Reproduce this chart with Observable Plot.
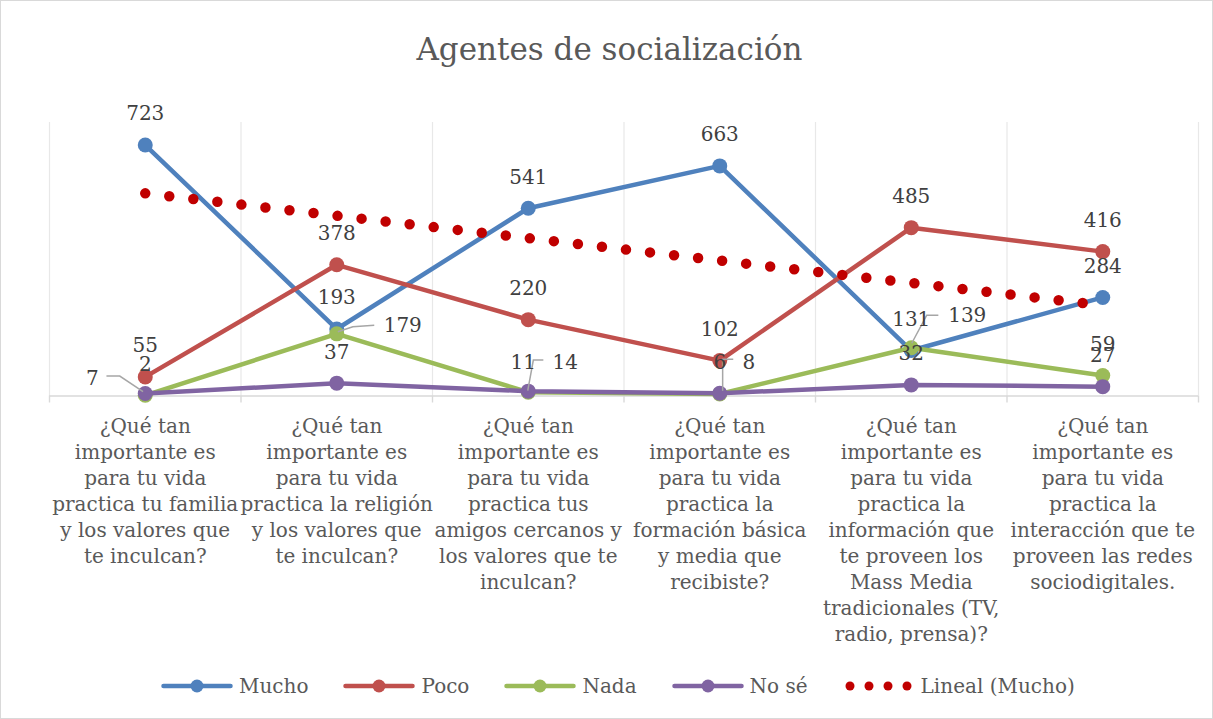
<!DOCTYPE html>
<html>
<head>
<meta charset="utf-8">
<script src="https://cdn.jsdelivr.net/npm/d3@7"></script>
<script src="https://cdn.jsdelivr.net/npm/@observablehq/plot@0.6"></script>
<style>
  html, body { margin: 0; padding: 0; background: #fff; }
  #chart { position: relative; width: 1213px; height: 719px; outline: 1px solid #d9d9d9; outline-offset: -1px; font-family: "DejaVu Serif", serif; overflow: hidden; }
  #title { position: absolute; left: 0; top: 34px; width: 1213px; text-align: center; font-size: 31px; line-height: 31px; color: #595959; padding-left: 6px; box-sizing: border-box; }
  #plot { position: absolute; left: 0; top: 100px; }
  #legend { position: absolute; left: 161px; top: 673px; height: 26px; display: flex; align-items: center; font-size: 20px; color: #595959; }
  .item { display: flex; align-items: center; margin-right: 35px; }
  .item svg { margin-right: 6px; }
</style>
</head>
<body>
<div id="chart">
  <div id="title">Agentes de socialización</div>
  <div id="plot"></div>
  <div id="legend"></div>
</div>
<script>
// ---- Data ----
const tickLabels = [
  "¿Qué tan\nimportante es\npara tu vida\npractica tu familia\ny los valores que\nte inculcan?",
  "¿Qué tan\nimportante es\npara tu vida\npractica la religión\ny los valores que\nte inculcan?",
  "¿Qué tan\nimportante es\npara tu vida\npractica tus\namigos cercanos y\nlos valores que te\ninculcan?",
  "¿Qué tan\nimportante es\npara tu vida\npractica la\nformación básica\ny media que\nrecibiste?",
  "¿Qué tan\nimportante es\npara tu vida\npractica la\ninformación que\nte proveen los\nMass Media\ntradicionales (TV,\nradio, prensa)?",
  "¿Qué tan\nimportante es\npara tu vida\npractica la\ninteracción que te\nproveen las redes\nsociodigitales."
];
const seriesNames = ["Mucho", "Poco", "Nada", "No sé"];
const mucho = [723, 193, 541, 663, 131, 284];
const poco  = [55, 378, 220, 102, 485, 416];
const nada  = [2, 179, 11, 6, 139, 59];
const noSe  = [7, 37, 14, 8, 32, 27];
const trendName = "Lineal (Mucho)";

// ---- Styles ----
const colors = {"Mucho": "#4F81BD", "Poco": "#C0504D", "Nada": "#9BBB59", "No sé": "#8064A2"};
const trendColor = "#C00000";
// label nudges (px) for manually moved labels, and their leader lines
const nudges = {
  "Nada|1":  {dx: 66, dy: -8,  leader: [[1.6,-1.6],[16.6,-6.6],[38,-8]]},
  "Nada|4":  {dx: 56, dy: -32, leader: [[1,-4],[16,-32],[27.6,-32]]},
  "Nada|2":  {dx: -5, dy: -30},
  "No sé|0": {dx: -53, dy: -15, leader: [[-1.7,-1.4],[-25,-17],[-38.3,-17]]},
  "No sé|2": {dx: 37, dy: -29, leader: [[0,0],[5.6,-30.6],[15.6,-30.6]]},
  "No sé|3": {dx: 29, dy: -31, leader: [[3.4,-2],[3.4,-33.4],[14,-33.4]]}
};

const valuesBySeries = {"Mucho": mucho, "Poco": poco, "Nada": nada, "No sé": noSe};
const rows = seriesNames.flatMap(s => valuesBySeries[s].map((v, i) => ({series: s, i: i + 1, idx: i, v})));
const muchoRows = rows.filter(d => d.series === "Mucho");
const centers = tickLabels.map((_, i) => i + 1);
const bounds = d3.range(0, tickLabels.length + 1).map(i => i + 0.5);

const marks = [
  Plot.ruleX(bounds, {x: d => d, y1: 0, y2: 788, stroke: "#e8e8e8", strokeWidth: 1.2}),
  Plot.ruleY([0], {stroke: "#d9d9d9", strokeWidth: 1.4}),
  Plot.axisX(bounds, {tickSize: 7, tickFormat: () => "", stroke: "#d9d9d9", strokeWidth: 1.4}),
  Plot.axisX(centers, {tickSize: 0, tickPadding: 19, tickFormat: i => tickLabels[i - 1], fontSize: 20, lineHeight: 1.3, fill: "#595959", textAnchor: "middle"})
];
for (const s of seriesNames) {
  const data = rows.filter(d => d.series === s);
  marks.push(Plot.line(data, {x: "i", y: "v", stroke: colors[s], strokeWidth: 4.5, strokeLinejoin: "round", strokeLinecap: "round"}));
  marks.push(Plot.dot(data, {x: "i", y: "v", r: 7.5, fill: colors[s], stroke: "none"}));
}
marks.push(Plot.linearRegressionY(muchoRows, {x: "i", y: "v", stroke: trendColor, strokeWidth: 10.5, strokeDasharray: "0 24.2", strokeLinecap: "round", ci: 0}));

const isNudged = d => nudges[d.series + "|" + d.idx] !== undefined;
marks.push(Plot.text(rows.filter(d => !isNudged(d)), {x: "i", y: "v", text: d => String(d.v), dy: -31, fontSize: 20, fill: "#404040"}));
for (const [key, n] of Object.entries(nudges)) {
  const [s, idx] = key.split("|");
  const data = rows.filter(d => d.series === s && d.idx === +idx);
  marks.push(Plot.text(data, {x: "i", y: "v", text: d => String(d.v), dx: n.dx, dy: n.dy, fontSize: 20, fill: "#404040"}));
}

const chart = Plot.plot({
  width: 1213,
  height: 560,
  marginLeft: 49,
  marginRight: 15,
  marginTop: 22,
  marginBottom: 264.5,
  x: {domain: [0.5, 6.5], label: null},
  y: {domain: [0, 788], axis: null},
  style: {fontFamily: "DejaVu Serif", background: "transparent", overflow: "visible"},
  marks
});

// leader lines for moved labels, positioned with the plot's own scales
const xs = chart.scale("x"), ys = chart.scale("y");
const svg = d3.select(chart);
const leaderG = svg.append("g");
for (const [key, n] of Object.entries(nudges)) {
  if (!n.leader) continue;
  const [s, idx] = key.split("|");
  const d = rows.find(r => r.series === s && r.idx === +idx);
  const px = xs.apply(d.i), py = ys.apply(d.v);
  leaderG.append("path")
    .attr("d", d3.line()(n.leader.map(([a, b]) => [px + a, py + b])))
    .attr("fill", "none").attr("stroke", "#a6a6a6").attr("stroke-width", 1.5);
}
// keep text labels on top of leaders
svg.selectAll("g[aria-label='text']").raise();

document.getElementById("plot").appendChild(chart);

// ---- Legend ----
const legend = d3.select("#legend");
for (const s of seriesNames) {
  const it = legend.append("div").attr("class", "item");
  const sw = it.append("svg").attr("width", 72).attr("height", 20);
  sw.append("line").attr("x1", 2.5).attr("x2", 69.5).attr("y1", 10).attr("y2", 10)
    .attr("stroke", colors[s]).attr("stroke-width", 4.5).attr("stroke-linecap", "round");
  sw.append("circle").attr("cx", 36).attr("cy", 10).attr("r", 6.5).attr("fill", colors[s]);
  it.append("span").text(s);
}
{
  const it = legend.append("div").attr("class", "item");
  const sw = it.append("svg").attr("width", 72).attr("height", 20);
  [7, 26, 45, 64].forEach(cx => sw.append("circle").attr("cx", cx).attr("cy", 10).attr("r", 4.5).attr("fill", trendColor));
  it.append("span").text(trendName);
}
</script>
</body>
</html>
